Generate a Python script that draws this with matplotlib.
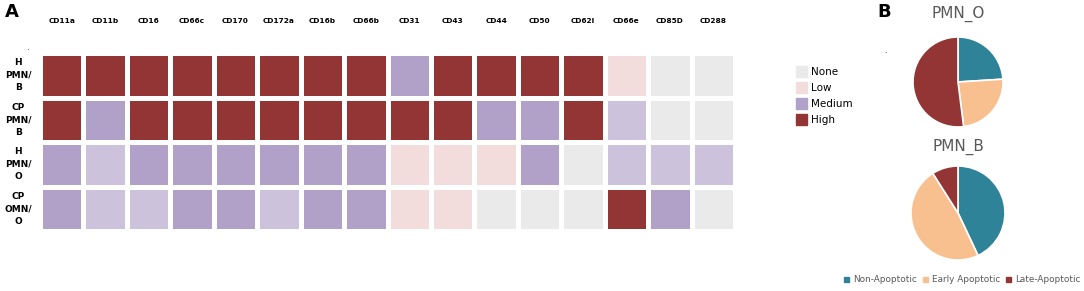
# Marker expression heatmap (A) and apoptosis pies (B)

import matplotlib.pyplot as plt
from matplotlib.colors import ListedColormap, BoundaryNorm
from matplotlib.patches import Patch
import numpy as np

markers = ['CD11a', 'CD11b', 'CD16', 'CD66c', 'CD170', 'CD172a', 'CD16b', 'CD66b',
           'CD31', 'CD43', 'CD44', 'CD50', 'CD62l', 'CD66e', 'CD85D', 'CD288']
groups = ['H\nPMN/\nB', 'CP\nPMN/\nB', 'H\nPMN/\nO', 'CP\nOMN/\nO']

# 0 none, 1 low, 2 low-medium, 3 medium, 4 high
levels = [
    [4, 4, 4, 4, 4, 4, 4, 4, 3, 4, 4, 4, 4, 1, 0, 0],
    [4, 3, 4, 4, 4, 4, 4, 4, 4, 4, 3, 3, 4, 2, 0, 0],
    [3, 2, 3, 3, 3, 3, 3, 3, 1, 1, 1, 3, 0, 2, 2, 2],
    [3, 2, 2, 3, 3, 2, 3, 3, 1, 1, 0, 0, 0, 4, 3, 0],
]
level_names = ['None', 'Low', 'Medium', 'High']

pie_labels = ['Non-Apoptotic', 'Early Apoptotic', 'Late-Apoptotic']
pmn_o = [24, 24, 52]
pmn_b = [43, 48, 9]

lvl_colors = ['#eaeaea', '#f2dcdc', '#ccc2dc', '#b1a1c8', '#943535']
pie_colors = ['#2e8399', '#f9c08f', '#943535']

W, H = 1084, 291
fig = plt.figure(figsize=(W / 100, H / 100), dpi=100)

def box(x0, y0, x1, y1):
    return [x0 / W, 1 - y1 / H, (x1 - x0) / W, (y1 - y0) / H]

# heatmap
ax = fig.add_axes(box(40, 53, 735, 231))
cmap = ListedColormap(lvl_colors)
norm = BoundaryNorm(np.arange(-0.5, 5.5), cmap.N)
data = np.array(levels)
ax.pcolormesh(data, cmap=cmap, norm=norm, edgecolors='white', linewidth=2.2)
ax.set_xlim(0, len(markers))
ax.set_ylim(len(groups), 0)
for s in ax.spines.values():
    s.set_visible(False)
ax.set_xticks(np.arange(len(markers)) + 0.5)
ax.set_xticklabels(markers, fontsize=5.3, fontweight='bold')
ax.xaxis.tick_top()
ax.tick_params(axis='x', length=0, pad=21)
ax.set_yticks([])
for i, g in enumerate(groups):
    ax.text(-0.5, i + 0.5, g, ha='center', va='center', fontsize=6.5,
            fontweight='bold', linespacing=1.5)

fig.legend(handles=[Patch(color=c) for c in [lvl_colors[0], lvl_colors[1], lvl_colors[3], lvl_colors[4]]],
           labels=level_names, loc='upper left', bbox_to_anchor=(796 / W, 1 - 66 / H),
           frameon=False, fontsize=7.5, handlelength=1.1, handleheight=1.3,
           handletextpad=0.3, labelspacing=0.45, borderpad=0, borderaxespad=0)

# pies
for vals, (cx, cy, r), title, ty in [(pmn_o, (958, 82, 45), 'PMN_O', 14),
                                    (pmn_b, (958, 213, 47), 'PMN_B', 147)]:
    pax = fig.add_axes(box(cx - r, cy - r, cx + r, cy + r))
    pax.pie(vals, colors=pie_colors, startangle=90, counterclock=False,
            wedgeprops=dict(edgecolor='white', linewidth=1.2))
    pax.set_xlim(-1, 1)
    pax.set_ylim(-1, 1)
    pax.set_aspect('equal')
    fig.text(cx / W, 1 - ty / H, title, ha='center', va='center', fontsize=11,
             color='#595959')

fig.legend(handles=[Patch(color=c) for c in pie_colors], labels=pie_labels,
           loc='center', bbox_to_anchor=(962 / W, 1 - 280 / H), ncol=3,
           frameon=False, fontsize=6.4, labelcolor='#595959', handlelength=0.6,
           handleheight=0.6, handletextpad=0.4, columnspacing=0.7, borderpad=0)

fig.text(12 / W, 1 - 12 / H, 'A', fontsize=13, fontweight='bold', ha='center', va='center')
fig.text(884 / W, 1 - 12 / H, 'B', fontsize=13, fontweight='bold', ha='center', va='center')
fig.text(27 / W, 1 - 48 / H, '.', fontsize=6, ha='center', va='center')
fig.text(885 / W, 1 - 50 / H, '.', fontsize=6, ha='center', va='center')

fig.savefig('out.png', dpi=100)
